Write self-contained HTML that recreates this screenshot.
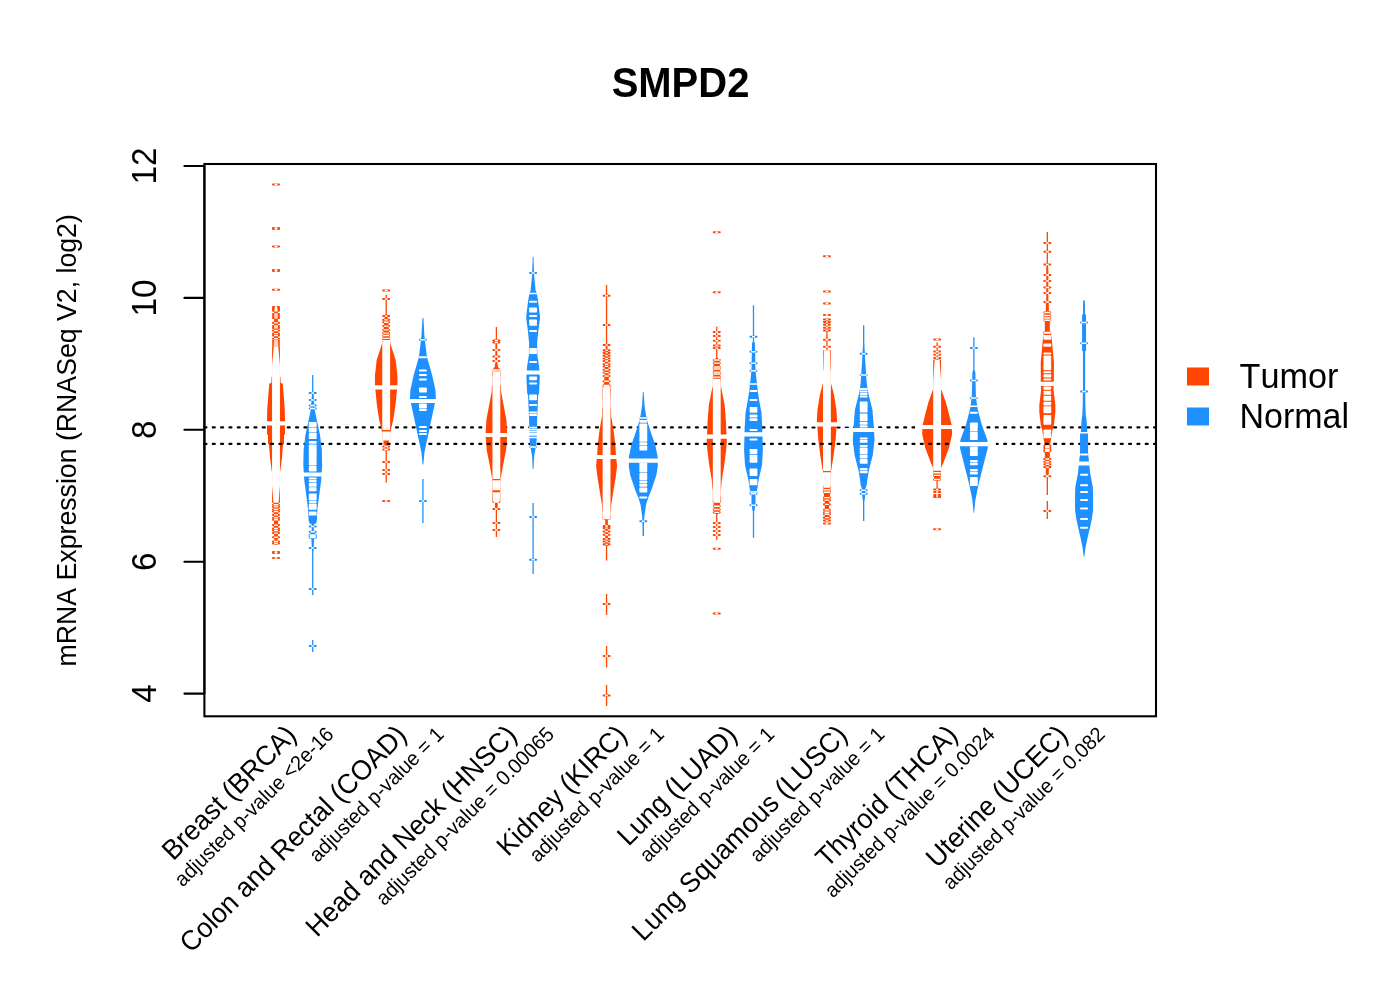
<!DOCTYPE html>
<html lang="en"><head><meta charset="utf-8"><title>SMPD2</title>
<style>html,body{margin:0;padding:0;background:#fff}svg{display:block}text{font-kerning:none;font-variant-ligatures:none}</style></head>
<body>
<svg width="1400" height="1000" viewBox="0 0 1400 1000" font-family="'Liberation Sans', sans-serif" fill="#000">
<rect width="1400" height="1000" fill="#fff"/>
<text transform="translate(680.5 97) scale(1,1.045)" font-size="40" font-weight="bold" text-anchor="middle">SMPD2</text>
<path d="M204.4 427.4H1156" stroke="#000" stroke-width="2.08" stroke-dasharray="2.08 6.25" stroke-linecap="round" stroke-dashoffset="0" fill="none" id="l1"/>
<g><path d="M273 184.5h6M273 228h6M273 229h6M273 246.5h6M273 270h6M273 271h6M273 289.7h6M273 307h6M273 308.3h6M273 309.47h6M273 310.77h6M273 314h6M273 315.95h6M273 317.9h6M273 322.84h6M273 325.96h6M273 327.91h6M273 330.51h6M273 333.63h6M273 335.58h6M273 338.7h6M273 341.04h6M273 342.99h6M273 344.94h6M273 347h6M273 348h6M273 349h6M273 350h6M273 351h6M273 352h6M273 353h6M273 354h6M273 355h6M273 356h6M273 357h6M273 358h6M273 359h6M273 360h6M273 361h6M273 362h6M273 363h6M273 364h6M273 487h6M273 488h6M273 489h6M273 490h6M273 491h6M273 492h6M273 493h6M273 494h6M273 495h6M273 496h6M273 497h6M273 498h6M273 499h6M273 500h6M273 501h6M273 502h6M273 504.8h6M273 506.9h6M273 509.42h6M273 511.52h6M273 514.88h6M273 517.68h6M273 519.78h6M273 525.1h6M273 528.46h6M273 530.56h6M273 533.08h6M273 537.28h6M273 541.5h6M273 543.5h6M273 552h6M273 553h6M273 558h6" stroke="#FF4500" stroke-width="2.08" stroke-linecap="round" fill="none"/>
<polygon points="275,306 274.2,312 274,340 273.7,347 272.1,365 272.1,376 271.6,377 271.3,383 269.3,383.5 268.3,395 267.2,410 267,420 267,434.5 268,435 268,444 269,444.5 270,457.5 271.7,471 272.1,472 272.1,486 273.4,502 273.8,510 274.2,538 275,545 277,545 277.8,538 278.2,510 278.6,502 279.9,486 279.9,472 280.3,471 282,457.5 283,444.5 284,444 284,435 285,434.5 285,420 284.8,410 283.7,395 282.7,383.5 280.7,383 280.4,377 279.9,376 279.9,365 278.3,347 278,340 277.8,312 277,306" fill="#FF4500"/>
<path d="M273 365h6M273 366h6M273 367h6M273 368h6M273 369h6M273 370h6M273 371h6M273 372h6M273 373h6M273 374h6M273 375h6M273 376h6M273 377h6M273 378h6M273 379h6M273 380h6M273 381h6M273 382h6M273 383h6M273 384h6M273 385h6M273 386h6M273 387h6M273 388h6M273 389h6M273 390h6M273 391h6M273 392h6M273 393h6M273 394h6M273 395h6M273 396h6M273 397h6M273 398h6M273 399h6M273 400h6M273 401h6M273 402h6M273 403h6M273 404h6M273 405h6M273 406h6M273 407h6M273 408h6M273 409h6M273 410h6M273 411h6M273 412h6M273 413h6M273 414h6M273 415h6M273 416h6M273 417h6M273 418h6M273 419h6M273 420h6M273 421h6M273 422h6M273 423h6M273 424h6M273 425h6M273 426h6M273 427h6M273 428h6M273 429h6M273 430h6M273 431h6M273 432h6M273 433h6M273 434h6M273 435h6M273 436h6M273 437h6M273 438h6M273 439h6M273 440h6M273 441h6M273 442h6M273 443h6M273 444h6M273 445h6M273 446h6M273 447h6M273 448h6M273 449h6M273 450h6M273 451h6M273 452h6M273 453h6M273 454h6M273 455h6M273 456h6M273 457h6M273 458h6M273 459h6M273 460h6M273 461h6M273 462h6M273 463h6M273 464h6M273 465h6M273 466h6M273 467h6M273 468h6M273 469h6M273 470h6M273 471h6M273 472h6M273 473h6M273 474h6M273 475h6M273 476h6M273 477h6M273 478h6M273 479h6M273 480h6M273 481h6M273 482h6M273 483h6M273 484h6M273 485h6M273 486h6" stroke="#fff" stroke-width="2.08" stroke-linecap="round" fill="none"/>
<path d="M274.6 184.5h2.8M274.6 228h2.8M274.6 229h2.8M274.6 246.5h2.8M274.6 270h2.8M274.6 271h2.8M274.6 289.7h2.8M274.87 307h2.27M274.69 308.3h2.61M274.54 309.47h2.93M274.36 310.77h3.27M274.19 314h3.63M274.17 315.95h3.66M274.16 317.9h3.68M274.12 322.84h3.75M274.1 325.96h3.8M274.09 327.91h3.83M274.07 330.51h3.86M274.05 333.63h3.91M274.03 335.58h3.94M274.01 338.7h3.98M273.96 341.04h4.09M273.87 342.99h4.26M273.79 344.94h4.42M273.7 347h4.6M273.61 348h4.78M273.52 349h4.96M273.43 350h5.13M273.34 351h5.31M273.26 352h5.49M273.17 353h5.67M273.08 354h5.84M272.99 355h6.02M272.9 356h6.2M272.81 357h6.38M272.72 358h6.56M272.63 359h6.73M272.54 360h6.91M272.46 361h7.09M272.37 362h7.27M272.28 363h7.44M272.19 364h7.62M272.18 487h7.64M272.26 488h7.47M272.34 489h7.31M272.43 490h7.15M272.51 491h6.99M272.59 492h6.83M272.67 493h6.66M272.75 494h6.5M272.83 495h6.34M272.91 496h6.17M272.99 497h6.01M273.07 498h5.85M273.16 499h5.69M273.24 500h5.53M273.32 501h5.36M273.4 502h5.2M273.54 504.8h4.92M273.64 506.9h4.71M273.77 509.42h4.46M273.82 511.52h4.36M273.87 514.88h4.26M273.91 517.68h4.18M273.94 519.78h4.12M274.02 525.1h3.97M274.06 528.46h3.87M274.09 530.56h3.81M274.13 533.08h3.74M274.19 537.28h3.62M273.9 541.5h4.2M274.13 543.5h3.74M274.6 552h2.8M274.6 553h2.8M274.6 558h2.8" stroke="#fff" stroke-width="1.4" fill="none"/>
<path d="M254 423.3h44" stroke="#fff" stroke-width="4.2" fill="none"/></g>
<g><path d="M386.19 295V316M386.19 444V482.5" stroke="#FF4500" stroke-width="1.3" fill="none"/>
<path d="M383.19 290.5h6M383.19 299h6M383.19 316h6M383.19 319.84h6M383.19 322.24h6M383.19 326.08h6M383.19 329.92h6M383.19 333.12h6M383.19 335.52h6M383.19 338.4h6M383.19 340.8h6M383.19 446.5h6M383.19 449.5h6M383.19 462h6M383.19 470h6M383.19 474h6M383.19 501h6" stroke="#FF4500" stroke-width="2.08" stroke-linecap="round" fill="none"/>
<polygon points="385.39,314 384.19,320 383.19,335 382.19,342 381.59,345 376.69,360 374.99,375 374.89,385 376.39,400 376.89,405 379.19,420 381.59,430 381.89,431.5 382.29,432 382.29,440 383.49,440.5 383.49,444.3 385.19,445 385.19,450 385.59,451 386.79,451 387.19,450 387.19,445 388.89,444.3 388.89,440.5 390.09,440 390.09,432 390.49,431.5 390.79,430 393.19,420 395.49,405 395.99,400 397.49,385 397.39,375 395.69,360 390.79,345 390.19,342 389.19,335 388.19,320 386.99,314" fill="#FF4500"/>
<path d="M383.19 342h6M383.19 343h6M383.19 344h6M383.19 345h6M383.19 346h6M383.19 347h6M383.19 348h6M383.19 349h6M383.19 350h6M383.19 351h6M383.19 352h6M383.19 353h6M383.19 354h6M383.19 355h6M383.19 356h6M383.19 357h6M383.19 358h6M383.19 359h6M383.19 360h6M383.19 361h6M383.19 362h6M383.19 363h6M383.19 364h6M383.19 365h6M383.19 366h6M383.19 367h6M383.19 368h6M383.19 369h6M383.19 370h6M383.19 371h6M383.19 372h6M383.19 373h6M383.19 374h6M383.19 375h6M383.19 376h6M383.19 377h6M383.19 378h6M383.19 379h6M383.19 380h6M383.19 381h6M383.19 382h6M383.19 383h6M383.19 384h6M383.19 385h6M383.19 386h6M383.19 387h6M383.19 388h6M383.19 389h6M383.19 390h6M383.19 391h6M383.19 392h6M383.19 393h6M383.19 394h6M383.19 395h6M383.19 396h6M383.19 397h6M383.19 398h6M383.19 399h6M383.19 400h6M383.19 401h6M383.19 402h6M383.19 403h6M383.19 404h6M383.19 405h6M383.19 406h6M383.19 407h6M383.19 408h6M383.19 409h6M383.19 410h6M383.19 411h6M383.19 412h6M383.19 413h6M383.19 414h6M383.19 415h6M383.19 416h6M383.19 417h6M383.19 418h6M383.19 419h6M383.19 420h6M383.19 421h6M383.19 422h6M383.19 423h6M383.19 424h6M383.19 425h6M383.19 426h6M383.19 427h6M383.19 428h6M383.19 429h6M383.19 432.5h6M383.19 433.5h6M383.19 434.5h6M383.19 435.5h6M383.19 436.5h6M383.19 437.5h6M383.19 438.5h6M383.19 439.5h6" stroke="#fff" stroke-width="2.08" stroke-linecap="round" fill="none"/>
<path d="M384.79 290.5h2.8M384.79 299h2.8M384.99 316h2.4M384.22 319.84h3.94M384.04 322.24h4.3M383.78 326.08h4.81M383.53 329.92h5.32M383.32 333.12h5.75M383.12 335.52h6.15M382.7 338.4h6.97M382.36 340.8h7.66M384.49 446.5h3.4M384.49 449.5h3.4M384.79 462h2.8M384.79 470h2.8M384.79 474h2.8M384.79 501h2.8" stroke="#fff" stroke-width="1.4" fill="none"/>
<path d="M364.19 387.3h44" stroke="#fff" stroke-width="4.2" fill="none"/></g>
<g><path d="M496.38 327V365M496.38 507V537" stroke="#FF4500" stroke-width="1.3" fill="none"/>
<path d="M493.38 340.5h6M493.38 342.5h6M493.38 350h6M493.38 356.5h6M493.38 361h6M493.38 370h6M493.38 372h6M493.38 373h6M493.38 374h6M493.38 375h6M493.38 376h6M493.38 493h6M493.38 494h6M493.38 495h6M493.38 496h6M493.38 497h6M493.38 498h6M493.38 499h6M493.38 500h6M493.38 501h6M493.38 502h6M493.38 509h6M493.38 523h6M493.38 530h6" stroke="#FF4500" stroke-width="2.08" stroke-linecap="round" fill="none"/>
<polygon points="495.58,339 495.38,364 494.88,364.5 494.88,367 493.38,368 492.78,372 492.48,377.5 492.48,385 491.88,386 491.58,392 489.18,405 486.38,420 485.48,435 486.68,450 489.68,465 492.08,478.5 492.48,479.5 492.48,491 492.58,492 492.88,500 493.88,502.5 494.98,503 494.98,507.5 495.78,508 496.98,508 497.78,507.5 497.78,503 498.88,502.5 499.88,500 500.18,492 500.28,491 500.28,479.5 500.68,478.5 503.08,465 506.08,450 507.28,435 506.38,420 503.58,405 501.18,392 500.88,386 500.28,385 500.28,377.5 499.98,372 499.38,368 497.88,367 497.88,364.5 497.38,364 497.18,339" fill="#FF4500"/>
<path d="M493.38 377h6M493.38 378h6M493.38 379h6M493.38 380h6M493.38 381h6M493.38 382h6M493.38 383h6M493.38 384h6M493.38 385h6M493.38 386h6M493.38 387h6M493.38 388h6M493.38 389h6M493.38 390h6M493.38 391h6M493.38 392h6M493.38 393h6M493.38 394h6M493.38 395h6M493.38 396h6M493.38 397h6M493.38 398h6M493.38 399h6M493.38 400h6M493.38 401h6M493.38 402h6M493.38 403h6M493.38 404h6M493.38 405h6M493.38 406h6M493.38 407h6M493.38 408h6M493.38 409h6M493.38 410h6M493.38 411h6M493.38 412h6M493.38 413h6M493.38 414h6M493.38 415h6M493.38 416h6M493.38 417h6M493.38 418h6M493.38 419h6M493.38 420h6M493.38 421h6M493.38 422h6M493.38 423h6M493.38 424h6M493.38 425h6M493.38 426h6M493.38 427h6M493.38 428h6M493.38 429h6M493.38 430h6M493.38 431h6M493.38 432h6M493.38 433h6M493.38 434h6M493.38 435h6M493.38 436h6M493.38 437h6M493.38 438h6M493.38 439h6M493.38 440h6M493.38 441h6M493.38 442h6M493.38 443h6M493.38 444h6M493.38 445h6M493.38 446h6M493.38 447h6M493.38 448h6M493.38 449h6M493.38 450h6M493.38 451h6M493.38 452h6M493.38 453h6M493.38 454h6M493.38 455h6M493.38 456h6M493.38 457h6M493.38 458h6M493.38 459h6M493.38 460h6M493.38 461h6M493.38 462h6M493.38 463h6M493.38 464h6M493.38 465h6M493.38 466h6M493.38 467h6M493.38 468h6M493.38 469h6M493.38 470h6M493.38 471h6M493.38 472h6M493.38 473h6M493.38 474h6M493.38 475h6M493.38 476h6M493.38 477h6M493.38 478h6M493.38 481.2h6M493.38 482.2h6M493.38 483.2h6M493.38 484.2h6M493.38 485.2h6M493.38 486.2h6M493.38 487.2h6M493.38 488.2h6M493.38 489.2h6" stroke="#fff" stroke-width="2.08" stroke-linecap="round" fill="none"/>
<path d="M494.87 340.5h3.02M494.85 342.5h3.06M494.79 350h3.18M494.74 356.5h3.28M494.7 361h3.35M492.38 370h8M492.78 372h7.2M492.73 373h7.31M492.67 374h7.42M492.62 375h7.53M492.56 376h7.64M492.62 493h7.52M492.65 494h7.45M492.69 495h7.38M492.73 496h7.3M492.77 497h7.22M492.81 498h7.15M492.84 499h7.08M492.88 500h7M493.28 501h6.2M493.68 502h5.4M494.98 509h2.8M494.98 523h2.8M494.98 530h2.8" stroke="#fff" stroke-width="1.4" fill="none"/>
<path d="M474.38 435h44" stroke="#fff" stroke-width="4.2" fill="none"/></g>
<g><path d="M606.57 285V345M606.57 520V560.6M606.57 594V615M606.57 646V667.6M606.57 685V706" stroke="#FF4500" stroke-width="1.3" fill="none"/>
<path d="M603.57 295.8h6M603.57 325h6M603.57 345h6M603.57 350.32h6M603.57 352.84h6M603.57 355.64h6M603.57 358.44h6M603.57 360.96h6M603.57 364.32h6M603.57 366.42h6M603.57 369.78h6M603.57 372.58h6M603.57 375.94h6M603.57 381.26h6M603.57 385.46h6M603.57 385.5h6M603.57 386.5h6M603.57 387.5h6M603.57 388.5h6M603.57 389.5h6M603.57 390.5h6M603.57 391.5h6M603.57 392.5h6M603.57 393.5h6M603.57 394.5h6M603.57 395.5h6M603.57 396.5h6M603.57 397.5h6M603.57 398.5h6M603.57 516.5h6M603.57 517.5h6M603.57 518.5h6M603.57 526h6M603.57 528.1h6M603.57 531.46h6M603.57 534.82h6M603.57 539.02h6M603.57 541.54h6M603.57 544.34h6M603.57 604h6M603.57 656h6M603.57 695.5h6" stroke="#FF4500" stroke-width="2.08" stroke-linecap="round" fill="none"/>
<polygon points="605.77,344 605.07,360 604.57,375 603.77,385.5 603.07,388 602.67,401 602.67,402 602.67,407 602.17,408 601.97,416.5 599.57,430 597.72,445 597.27,454 596.07,466 597.57,478 599.57,490 601.97,505 602.27,511 602.67,512 602.67,516 603.07,518.5 604.57,519.5 605.27,520 605.27,524.5 605.07,535 605.77,545.5 607.37,545.5 608.07,535 607.87,524.5 607.87,520 608.57,519.5 610.07,518.5 610.47,516 610.47,512 610.87,511 611.17,505 613.57,490 615.57,478 617.07,466 615.87,454 615.42,445 613.57,430 611.17,416.5 610.97,408 610.47,407 610.47,402 610.47,401 610.07,388 609.37,385.5 608.57,375 608.07,360 607.37,344" fill="#FF4500"/>
<path d="M603.57 399.5h6M603.57 400.5h6M603.57 401.5h6M603.57 402.5h6M603.57 403.5h6M603.57 404.5h6M603.57 405.5h6M603.57 406.5h6M603.57 407.5h6M603.57 408.5h6M603.57 409.5h6M603.57 410.5h6M603.57 411.5h6M603.57 412.5h6M603.57 413.5h6M603.57 414.5h6M603.57 415.5h6M603.57 416.5h6M603.57 417.5h6M603.57 418.5h6M603.57 419.5h6M603.57 420.5h6M603.57 421.5h6M603.57 422.5h6M603.57 423.5h6M603.57 424.5h6M603.57 425.5h6M603.57 426.5h6M603.57 427.5h6M603.57 428.5h6M603.57 429.5h6M603.57 430.5h6M603.57 431.5h6M603.57 432.5h6M603.57 433.5h6M603.57 434.5h6M603.57 435.5h6M603.57 436.5h6M603.57 437.5h6M603.57 438.5h6M603.57 439.5h6M603.57 440.5h6M603.57 441.5h6M603.57 442.5h6M603.57 443.5h6M603.57 444.5h6M603.57 445.5h6M603.57 446.5h6M603.57 447.5h6M603.57 448.5h6M603.57 449.5h6M603.57 450.5h6M603.57 451.5h6M603.57 452.5h6M603.57 453.5h6M603.57 454.5h6M603.57 455.5h6M603.57 456.5h6M603.57 457.5h6M603.57 458.5h6M603.57 459.5h6M603.57 460.5h6M603.57 461.5h6M603.57 462.5h6M603.57 463.5h6M603.57 464.5h6M603.57 465.5h6M603.57 466.5h6M603.57 467.5h6M603.57 468.5h6M603.57 469.5h6M603.57 470.5h6M603.57 471.5h6M603.57 472.5h6M603.57 473.5h6M603.57 474.5h6M603.57 475.5h6M603.57 476.5h6M603.57 477.5h6M603.57 478.5h6M603.57 479.5h6M603.57 480.5h6M603.57 481.5h6M603.57 482.5h6M603.57 483.5h6M603.57 484.5h6M603.57 485.5h6M603.57 486.5h6M603.57 487.5h6M603.57 488.5h6M603.57 489.5h6M603.57 490.5h6M603.57 491.5h6M603.57 492.5h6M603.57 493.5h6M603.57 494.5h6M603.57 495.5h6M603.57 496.5h6M603.57 497.5h6M603.57 498.5h6M603.57 499.5h6M603.57 500.5h6M603.57 501.5h6M603.57 502.5h6M603.57 503.5h6M603.57 504.5h6M603.57 505.5h6M603.57 506.5h6M603.57 507.5h6M603.57 508.5h6M603.57 509.5h6M603.57 510.5h6M603.57 511.5h6M603.57 512.5h6M603.57 513.5h6M603.57 514.5h6M603.57 515.5h6" stroke="#fff" stroke-width="2.08" stroke-linecap="round" fill="none"/>
<path d="M605.17 295.8h2.8M605.17 325h2.8M605.57 345h2M605.49 350.32h2.15M605.38 352.84h2.37M605.26 355.64h2.62M605.14 358.44h2.86M605.04 360.96h3.06M604.93 364.32h3.29M604.86 366.42h3.43M604.74 369.78h3.65M604.65 372.58h3.84M604.5 375.94h4.14M604.09 381.26h4.95M603.77 385.46h5.59M603.77 385.5h5.6M603.49 386.5h6.16M603.21 387.5h6.72M603.05 388.5h7.03M603.02 389.5h7.09M602.99 390.5h7.15M602.96 391.5h7.22M602.93 392.5h7.28M602.9 393.5h7.34M602.87 394.5h7.4M602.84 395.5h7.46M602.81 396.5h7.52M602.78 397.5h7.58M602.75 398.5h7.65M602.75 516.5h7.64M602.91 517.5h7.32M603.07 518.5h7M605.24 526h2.66M605.2 528.1h2.74M605.14 531.46h2.87M605.07 534.82h2.99M605.34 539.02h2.46M605.51 541.54h2.13M605.57 544.34h2M605.17 604h2.8M605.17 656h2.8M605.17 695.5h2.8" stroke="#fff" stroke-width="1.4" fill="none"/>
<path d="M584.57 457h44" stroke="#fff" stroke-width="4.2" fill="none"/></g>
<g><path d="M716.76 326.8V360M716.76 513V540" stroke="#FF4500" stroke-width="1.3" fill="none"/>
<path d="M713.76 232.3h6M713.76 292.3h6M713.76 332h6M713.76 336h6M713.76 340.7h6M713.76 345.5h6M713.76 348h6M713.76 360h6M713.76 363.12h6M713.76 367.02h6M713.76 368.97h6M713.76 372.09h6M713.76 374.04h6M713.76 377.16h6M713.76 379.5h6M713.76 496h6M713.76 497h6M713.76 498h6M713.76 499h6M713.76 500h6M713.76 501h6M713.76 502h6M713.76 506.2h6M713.76 509.56h6M713.76 512.36h6M713.76 523h6M713.76 527h6M713.76 531h6M713.76 535h6M713.76 548.7h6M713.76 613.5h6" stroke="#FF4500" stroke-width="2.08" stroke-linecap="round" fill="none"/>
<polygon points="715.96,358 713.76,360 713.36,375 712.86,381 712.86,387 712.26,387.7 708.86,405 707.66,420 707.16,432 706.66,441 707.36,450 709.26,465 711.76,480 712.46,489 712.86,490 712.86,495 712.96,496 713.36,502 714.26,513 716.16,514 717.36,514 719.26,513 720.16,502 720.56,496 720.66,495 720.66,490 721.06,489 721.76,480 724.26,465 726.16,450 726.86,441 726.36,432 725.86,420 724.66,405 721.26,387.7 720.66,387 720.66,381 720.16,375 719.76,360 717.56,358" fill="#FF4500"/>
<path d="M713.76 381h6M713.76 382h6M713.76 383h6M713.76 384h6M713.76 385h6M713.76 386h6M713.76 387h6M713.76 388h6M713.76 389h6M713.76 390h6M713.76 391h6M713.76 392h6M713.76 393h6M713.76 394h6M713.76 395h6M713.76 396h6M713.76 397h6M713.76 398h6M713.76 399h6M713.76 400h6M713.76 401h6M713.76 402h6M713.76 403h6M713.76 404h6M713.76 405h6M713.76 406h6M713.76 407h6M713.76 408h6M713.76 409h6M713.76 410h6M713.76 411h6M713.76 412h6M713.76 413h6M713.76 414h6M713.76 415h6M713.76 416h6M713.76 417h6M713.76 418h6M713.76 419h6M713.76 420h6M713.76 421h6M713.76 422h6M713.76 423h6M713.76 424h6M713.76 425h6M713.76 426h6M713.76 427h6M713.76 428h6M713.76 429h6M713.76 430h6M713.76 431h6M713.76 432h6M713.76 433h6M713.76 434h6M713.76 435h6M713.76 436h6M713.76 437h6M713.76 438h6M713.76 439h6M713.76 440h6M713.76 441h6M713.76 442h6M713.76 443h6M713.76 444h6M713.76 445h6M713.76 446h6M713.76 447h6M713.76 448h6M713.76 449h6M713.76 450h6M713.76 451h6M713.76 452h6M713.76 453h6M713.76 454h6M713.76 455h6M713.76 456h6M713.76 457h6M713.76 458h6M713.76 459h6M713.76 460h6M713.76 461h6M713.76 462h6M713.76 463h6M713.76 464h6M713.76 465h6M713.76 466h6M713.76 467h6M713.76 468h6M713.76 469h6M713.76 470h6M713.76 471h6M713.76 472h6M713.76 473h6M713.76 474h6M713.76 475h6M713.76 476h6M713.76 477h6M713.76 478h6M713.76 479h6M713.76 480h6M713.76 481h6M713.76 482h6M713.76 483h6M713.76 484h6M713.76 485h6M713.76 486h6M713.76 487h6M713.76 488h6M713.76 489h6M713.76 490h6M713.76 491h6M713.76 492h6M713.76 493h6M713.76 494h6M713.76 495h6" stroke="#fff" stroke-width="2.08" stroke-linecap="round" fill="none"/>
<path d="M715.36 232.3h2.8M715.36 292.3h2.8M715.36 332h2.8M715.36 336h2.8M715.36 340.7h2.8M715.36 345.5h2.8M715.36 348h2.8M713.76 360h6M713.68 363.12h6.17M713.57 367.02h6.37M713.52 368.97h6.48M713.44 372.09h6.64M713.39 374.04h6.75M713.18 377.16h7.16M712.99 379.5h7.55M712.96 496h7.6M713.03 497h7.47M713.09 498h7.33M713.16 499h7.2M713.23 500h7.07M713.29 501h6.93M713.36 502h6.8M713.7 506.2h6.11M713.98 509.56h5.56M714.21 512.36h5.1M715.36 523h2.8M715.36 527h2.8M715.36 531h2.8M715.36 535h2.8M715.36 548.7h2.8M715.36 613.5h2.8" stroke="#fff" stroke-width="1.4" fill="none"/>
<path d="M694.76 436.7h44" stroke="#fff" stroke-width="4.2" fill="none"/></g>
<g><path d="M826.95 318V351" stroke="#FF4500" stroke-width="1.3" fill="none"/>
<path d="M823.95 256.2h6M823.95 291.5h6M823.95 303.5h6M823.95 315h6M823.95 319.5h6M823.95 322.1h6M823.95 324.7h6M823.95 327.82h6M823.95 330.42h6M823.95 339.7h6M823.95 346.8h6M823.95 351h6M823.95 352h6M823.95 353h6M823.95 354h6M823.95 355h6M823.95 356h6M823.95 357h6M823.95 358h6M823.95 359h6M823.95 360h6M823.95 361h6M823.95 362h6M823.95 363h6M823.95 364h6M823.95 365h6M823.95 366h6M823.95 367h6M823.95 368h6M823.95 369h6M823.95 370h6M823.95 485.3h6M823.95 486.3h6M823.95 487h6M823.95 489.8h6M823.95 492.32h6M823.95 497.64h6M823.95 500.16h6M823.95 504.36h6M823.95 509.68h6M823.95 512.2h6M823.95 514.3h6M823.95 517.66h6M823.95 520.46h6M823.95 523.5h6" stroke="#FF4500" stroke-width="2.08" stroke-linecap="round" fill="none"/>
<polygon points="826.15,350 823.75,351 823.35,370 823.05,371 823.05,383 822.55,384.5 819.85,395 817.45,410 816.85,420.5 818.35,440 820.2,455 822.65,470 823.05,471.5 823.05,485 823.35,486 823.95,495 824.95,505 824.45,515 825.95,521 827.95,521 829.45,515 828.95,505 829.95,495 830.55,486 830.85,485 830.85,471.5 831.25,470 833.7,455 835.55,440 837.05,420.5 836.45,410 834.05,395 831.35,384.5 830.85,383 830.85,371 830.55,370 830.15,351 827.75,350" fill="#FF4500"/>
<path d="M823.95 371h6M823.95 372h6M823.95 373h6M823.95 374h6M823.95 375h6M823.95 376h6M823.95 377h6M823.95 378h6M823.95 379h6M823.95 380h6M823.95 381h6M823.95 382h6M823.95 383h6M823.95 384h6M823.95 385h6M823.95 386h6M823.95 387h6M823.95 388h6M823.95 389h6M823.95 390h6M823.95 391h6M823.95 392h6M823.95 393h6M823.95 394h6M823.95 395h6M823.95 396h6M823.95 397h6M823.95 398h6M823.95 399h6M823.95 400h6M823.95 401h6M823.95 402h6M823.95 403h6M823.95 404h6M823.95 405h6M823.95 406h6M823.95 407h6M823.95 408h6M823.95 409h6M823.95 410h6M823.95 411h6M823.95 412h6M823.95 413h6M823.95 414h6M823.95 415h6M823.95 416h6M823.95 417h6M823.95 418h6M823.95 419h6M823.95 420h6M823.95 421h6M823.95 422h6M823.95 423h6M823.95 424h6M823.95 425h6M823.95 426h6M823.95 427h6M823.95 428h6M823.95 429h6M823.95 430h6M823.95 431h6M823.95 432h6M823.95 433h6M823.95 434h6M823.95 435h6M823.95 436h6M823.95 437h6M823.95 438h6M823.95 439h6M823.95 440h6M823.95 441h6M823.95 442h6M823.95 443h6M823.95 444h6M823.95 445h6M823.95 446h6M823.95 447h6M823.95 448h6M823.95 449h6M823.95 450h6M823.95 451h6M823.95 452h6M823.95 453h6M823.95 454h6M823.95 455h6M823.95 456h6M823.95 457h6M823.95 458h6M823.95 459h6M823.95 460h6M823.95 461h6M823.95 462h6M823.95 463h6M823.95 464h6M823.95 465h6M823.95 466h6M823.95 467h6M823.95 468h6M823.95 469h6M823.95 470h6M823.95 473.3h6M823.95 474.3h6M823.95 475.3h6M823.95 476.3h6M823.95 477.3h6M823.95 478.3h6M823.95 479.3h6M823.95 480.3h6M823.95 481.3h6M823.95 482.3h6M823.95 483.3h6M823.95 484.3h6" stroke="#fff" stroke-width="2.08" stroke-linecap="round" fill="none"/>
<path d="M825.55 256.2h2.8M825.55 291.5h2.8M825.55 303.5h2.8M825.55 315h2.8M825.95 319.5h2M825.95 322.1h2M825.95 324.7h2M825.95 327.82h2M825.95 330.42h2M825.55 339.7h2.8M825.55 346.8h2.8M823.75 351h6.4M823.73 352h6.44M823.71 353h6.48M823.69 354h6.53M823.67 355h6.57M823.64 356h6.61M823.62 357h6.65M823.6 358h6.69M823.58 359h6.74M823.56 360h6.78M823.54 361h6.82M823.52 362h6.86M823.5 363h6.91M823.48 364h6.95M823.46 365h6.99M823.43 366h7.03M823.41 367h7.07M823.39 368h7.12M823.37 369h7.16M823.35 370h7.2M823.14 485.3h7.62M823.37 486.3h7.16M823.42 487h7.07M823.6 489.8h6.69M823.77 492.32h6.36M824.21 497.64h5.47M824.47 500.16h4.97M824.89 504.36h4.13M824.72 509.68h4.47M824.59 512.2h4.72M824.48 514.3h4.93M825.11 517.66h3.67M825.81 520.46h2.27M825.55 523.5h2.8" stroke="#fff" stroke-width="1.4" fill="none"/>
<path d="M804.95 424.3h44" stroke="#fff" stroke-width="4.2" fill="none"/></g>
<g><path d="M937.14 342.5V360.5M937.14 480.5V489.5" stroke="#FF4500" stroke-width="1.3" fill="none"/>
<path d="M934.14 339.5h6M934.14 346.7h6M934.14 351.5h6M934.14 354.8h6M934.14 358h6M934.14 360.5h6M934.14 361.5h6M934.14 362.5h6M934.14 363.5h6M934.14 364.5h6M934.14 365.5h6M934.14 366.5h6M934.14 367.5h6M934.14 368.5h6M934.14 369.5h6M934.14 370.5h6M934.14 371.5h6M934.14 372.5h6M934.14 373.5h6M934.14 374.5h6M934.14 375.5h6M934.14 376.5h6M934.14 377.5h6M934.14 378.5h6M934.14 379.5h6M934.14 469.5h6M934.14 470h6M934.14 472.7h6M934.14 475.4h6M934.14 479.45h6M934.14 489.5h6M934.14 492h6M934.14 495h6M934.14 496.88h6M934.14 529.2h6" stroke="#FF4500" stroke-width="2.08" stroke-linecap="round" fill="none"/>
<polygon points="936.34,359.5 934.64,360.5 933.64,375 933.24,380.7 933.24,381.5 933.24,390 932.64,390.5 928.34,402.5 924.44,417.5 922.64,425 922.14,434 925.14,447.5 930.74,462.5 933.04,467.7 933.24,468 933.34,470 933.64,475 934.14,480.5 936.54,481 937.74,481 940.14,480.5 940.64,475 940.94,470 941.04,468 941.24,467.7 943.54,462.5 949.14,447.5 952.14,434 951.64,425 949.84,417.5 945.94,402.5 941.64,390.5 941.04,390 941.04,381.5 941.04,380.7 940.64,375 939.64,360.5 937.94,359.5" fill="#FF4500"/>
<path d="M934.14 380.5h6M934.14 381.5h6M934.14 382.5h6M934.14 383.5h6M934.14 384.5h6M934.14 385.5h6M934.14 386.5h6M934.14 387.5h6M934.14 388.5h6M934.14 389.5h6M934.14 390.5h6M934.14 391.5h6M934.14 392.5h6M934.14 393.5h6M934.14 394.5h6M934.14 395.5h6M934.14 396.5h6M934.14 397.5h6M934.14 398.5h6M934.14 399.5h6M934.14 400.5h6M934.14 401.5h6M934.14 402.5h6M934.14 403.5h6M934.14 404.5h6M934.14 405.5h6M934.14 406.5h6M934.14 407.5h6M934.14 408.5h6M934.14 409.5h6M934.14 410.5h6M934.14 411.5h6M934.14 412.5h6M934.14 413.5h6M934.14 414.5h6M934.14 415.5h6M934.14 416.5h6M934.14 417.5h6M934.14 418.5h6M934.14 419.5h6M934.14 420.5h6M934.14 421.5h6M934.14 422.5h6M934.14 423.5h6M934.14 424.5h6M934.14 425.5h6M934.14 426.5h6M934.14 427.5h6M934.14 428.5h6M934.14 429.5h6M934.14 430.5h6M934.14 431.5h6M934.14 432.5h6M934.14 433.5h6M934.14 434.5h6M934.14 435.5h6M934.14 436.5h6M934.14 437.5h6M934.14 438.5h6M934.14 439.5h6M934.14 440.5h6M934.14 441.5h6M934.14 442.5h6M934.14 443.5h6M934.14 444.5h6M934.14 445.5h6M934.14 446.5h6M934.14 447.5h6M934.14 448.5h6M934.14 449.5h6M934.14 450.5h6M934.14 451.5h6M934.14 452.5h6M934.14 453.5h6M934.14 454.5h6M934.14 455.5h6M934.14 456.5h6M934.14 457.5h6M934.14 458.5h6M934.14 459.5h6M934.14 460.5h6M934.14 461.5h6M934.14 462.5h6M934.14 463.5h6M934.14 464.5h6M934.14 465.5h6M934.14 466.5h6M934.14 467.5h6M934.14 468.5h6" stroke="#fff" stroke-width="2.08" stroke-linecap="round" fill="none"/>
<path d="M935.74 339.5h2.8M935.74 346.7h2.8M935.74 351.5h2.8M935.74 354.8h2.8M935.74 358h2.8M934.64 360.5h5M934.57 361.5h5.14M934.5 362.5h5.28M934.43 363.5h5.41M934.36 364.5h5.55M934.3 365.5h5.69M934.23 366.5h5.83M934.16 367.5h5.97M934.09 368.5h6.1M934.02 369.5h6.24M933.95 370.5h6.38M933.88 371.5h6.52M933.81 372.5h6.66M933.74 373.5h6.79M933.67 374.5h6.93M933.6 375.5h7.07M933.53 376.5h7.21M933.46 377.5h7.35M933.39 378.5h7.49M933.32 379.5h7.63M933.31 469.5h7.65M933.34 470h7.6M933.5 472.7h7.28M933.68 475.4h6.93M934.04 479.45h6.19M936.14 489.5h2M936.14 492h2M936.14 495h2M936.14 496.88h2M935.74 529.2h2.8" stroke="#fff" stroke-width="1.4" fill="none"/>
<path d="M915.14 427h44" stroke="#fff" stroke-width="4.2" fill="none"/></g>
<g><path d="M1047.33 232V310M1047.33 476V495M1047.33 501V519" stroke="#FF4500" stroke-width="1.3" fill="none"/>
<path d="M1044.33 243h6M1044.33 251.8h6M1044.33 264.5h6M1044.33 275h6M1044.33 281h6M1044.33 287.5h6M1044.33 293h6M1044.33 302h6M1044.33 312.5h6M1044.33 315.5h6M1044.33 318h6M1044.33 320.25h6M1044.33 332.5h6M1044.33 333.1h6M1044.33 446h6M1044.33 447.49h6M1044.33 449.36h6M1044.33 450.48h6M1044.33 451.32h6M1044.33 459h6M1044.33 461.8h6M1044.33 464.32h6M1044.33 467.12h6M1044.33 476.2h6M1044.33 511h6" stroke="#FF4500" stroke-width="2.08" stroke-linecap="round" fill="none"/>
<polygon points="1046.73,266 1046.33,268 1046.33,302 1045.83,303 1045.83,311 1044.33,311.5 1044.13,320.5 1044.83,322 1044.83,331 1043.83,333 1042.83,340 1042.13,347.5 1040.73,362.5 1040.83,381 1041.13,390 1039.33,405 1039.33,412.5 1040.73,424.5 1042.33,430.5 1043.33,438 1044.33,442.5 1044.33,445.5 1045.13,446 1044.83,453 1044.83,457 1045.33,458 1045.83,468 1045.83,474 1046.73,475 1047.93,475 1048.83,474 1048.83,468 1049.33,458 1049.83,457 1049.83,453 1049.53,446 1050.33,445.5 1050.33,442.5 1051.33,438 1052.33,430.5 1053.93,424.5 1055.33,412.5 1055.33,405 1053.53,390 1053.83,381 1053.93,362.5 1052.53,347.5 1051.83,340 1050.83,333 1049.83,331 1049.83,322 1050.53,320.5 1050.33,311.5 1048.83,311 1048.83,303 1048.33,302 1048.33,268 1047.93,266" fill="#FF4500"/>
<path d="M1044.33 336h6M1044.33 336.6h6M1044.33 338.6h6M1044.33 344.5h6M1044.33 345.7h6M1044.33 353.5h6M1044.33 356.5h6M1044.33 357.74h6M1044.33 359.8h6M1044.33 361.46h6M1044.33 363.52h6M1044.33 365.18h6M1044.33 365.8h6M1044.33 366.42h6M1044.33 367.66h6M1044.33 369.31h6M1044.33 372.31h6M1044.33 375.3h6M1044.33 375.92h6M1044.33 376.54h6M1044.33 379.54h6M1044.33 387.5h6M1044.33 388.74h6M1044.33 391.74h6M1044.33 393.8h6M1044.33 396.8h6M1044.33 398.45h6M1044.33 399.69h6M1044.33 402.69h6M1044.33 404.34h6M1044.33 407.34h6M1044.33 408.58h6M1044.33 409.2h6M1044.33 410.85h6M1044.33 412.09h6M1044.33 416h6M1044.33 418h6M1044.33 418.6h6M1044.33 420.2h6M1044.33 420.8h6M1044.33 421.7h6M1044.33 422.9h6M1044.33 423.8h6M1044.33 430.5h6M1044.33 431.34h6M1044.33 432.83h6M1044.33 434.33h6M1044.33 435.82h6M1044.33 436.38h6M1044.33 437.22h6" stroke="#fff" stroke-width="2.08" stroke-linecap="round" fill="none"/>
<path d="M1045.93 243h2.8M1045.93 251.8h2.8M1045.93 264.5h2.8M1045.63 275h3.4M1045.63 281h3.4M1045.63 287.5h3.4M1045.63 293h3.4M1045.63 302h3.4M1044.31 312.5h6.04M1044.24 315.5h6.18M1044.19 318h6.29M1044.14 320.25h6.39M1044.08 332.5h6.5M1043.82 333.1h7.03M1045.13 446h4.4M1045.07 447.49h4.53M1044.99 449.36h4.69M1044.94 450.48h4.78M1044.9 451.32h4.86M1045.38 459h3.9M1045.52 461.8h3.62M1045.65 464.32h3.37M1045.79 467.12h3.09M1045.93 476.2h2.8M1045.93 511h2.8" stroke="#fff" stroke-width="1.4" fill="none"/>
<path d="M1025.33 383.8h44" stroke="#fff" stroke-width="4.2" fill="none"/></g>
<path d="M204.4 443.9H1156" stroke="#000" stroke-width="2.08" stroke-dasharray="2.08 6.25" stroke-linecap="round" fill="none" id="l2"/>
<g><path d="M312.73 375V410M312.73 523V595M312.73 640V652" stroke="#1E90FF" stroke-width="1.3" fill="none"/>
<path d="M309.73 393h6M309.73 400h6M309.73 405.5h6M309.73 408.5h6M309.73 526.5h6M309.73 531.7h6M309.73 535h6M309.73 535.81h6M309.73 536.35h6M309.73 537.43h6M309.73 548h6M309.73 589h6M309.73 646h6" stroke="#1E90FF" stroke-width="2.08" stroke-linecap="round" fill="none"/>
<polygon points="312.13,392 311.53,400 310.73,410 308.63,420 305.43,435 303.63,450 303.33,465 304.23,480 306.23,495 308.13,510 308.43,516 308.63,521 309.73,523.5 311.73,524.5 311.73,531 311.23,532 309.73,534 309.73,538.5 311.43,539 311.73,546 312.13,551 313.33,551 313.73,546 314.03,539 315.73,538.5 315.73,534 314.23,532 313.73,531 313.73,524.5 315.73,523.5 316.83,521 317.03,516 317.33,510 319.23,495 321.23,480 322.13,465 321.83,450 320.03,435 316.83,420 314.73,410 313.93,400 313.33,392" fill="#1E90FF"/>
<path d="M309.73 423h6M309.73 424.8h6M309.73 425.88h6M309.73 428.49h6M309.73 429.93h6M309.73 431.01h6M309.73 433.62h6M309.73 435.06h6M309.73 435.87h6M309.73 436.68h6M309.73 437.22h6M309.73 438.03h6M309.73 442h6M309.73 442.81h6M309.73 445.42h6M309.73 446.23h6M309.73 446.77h6M309.73 448.21h6M309.73 450.01h6M309.73 450.82h6M309.73 451.9h6M309.73 452.98h6M309.73 453.52h6M309.73 454.33h6M309.73 455.77h6M309.73 457.57h6M309.73 458.65h6M309.73 460.45h6M309.73 462.25h6M309.73 463.33h6M309.73 464.14h6M309.73 466.75h6M309.73 468.55h6M309.73 470.35h6M309.73 478.5h6M309.73 481.11h6M309.73 483.72h6M309.73 484.26h6M309.73 485.7h6M309.73 488.31h6M309.73 490.11h6M309.73 494.5h6M309.73 495.94h6M309.73 497.38h6M309.73 498.82h6M309.73 499.36h6M309.73 502h6M309.73 504.61h6M309.73 506.05h6M309.73 506.59h6M309.73 507.4h6M309.73 507.94h6M309.73 508.75h6M309.73 512.5h6M309.73 514.5h6" stroke="#fff" stroke-width="2.08" stroke-linecap="round" fill="none"/>
<path d="M311.33 393h2.8M310.83 400h3.8M310.39 405.5h4.68M310.15 408.5h5.16M311.03 526.5h3.4M310.68 531.7h4.1M309.73 535h6M309.73 535.81h6M309.73 536.35h6M309.73 537.43h6M311.19 548h3.08M311.33 589h2.8M311.33 646h2.8" stroke="#fff" stroke-width="1.4" fill="none"/>
<path d="M290.73 474.5h44" stroke="#fff" stroke-width="4.2" fill="none"/></g>
<g><path d="M422.92 479V523" stroke="#1E90FF" stroke-width="1.3" fill="none"/>
<path d="M419.92 339.7h6M419.92 501h6" stroke="#1E90FF" stroke-width="2.08" stroke-linecap="round" fill="none"/>
<polygon points="422.42,318 421.42,336 418.92,357 413.72,375 410.42,390 409.92,399 410.92,403 421.42,452.5 422.52,464.5 423.32,464.5 424.42,452.5 434.92,403 435.92,399 435.42,390 432.12,375 426.92,357 424.42,336 423.42,318" fill="#1E90FF"/>
<path d="M419.92 357.3h6M419.92 370.5h6M419.92 375h6M419.92 379.5h6M419.92 388.5h6M419.92 389.5h6M419.92 390.5h6M419.92 391.5h6M419.92 397h6M419.92 404.5h6M419.92 405.5h6M419.92 406.5h6M419.92 407.5h6M419.92 410h6M419.92 427h6M419.92 431h6M419.92 434h6" stroke="#fff" stroke-width="2.08" stroke-linecap="round" fill="none"/>
<path d="M420.28 339.7h5.28M421.52 501h2.8" stroke="#fff" stroke-width="1.4" fill="none"/>
<path d="M400.92 401h44" stroke="#fff" stroke-width="4.2" fill="none"/></g>
<g><path d="M533.11 503V574" stroke="#1E90FF" stroke-width="1.3" fill="none"/>
<path d="M530.11 273h6M530.11 293.5h6M530.11 427.5h6M530.11 429.5h6M530.11 431.5h6M530.11 433.5h6M530.11 435h6M530.11 437.5h6M530.11 447h6M530.11 517h6M530.11 559.7h6" stroke="#1E90FF" stroke-width="2.08" stroke-linecap="round" fill="none"/>
<polygon points="532.71,256.7 532.11,275 530.61,290.5 529.11,295 527.91,302.5 526.11,317.5 527.91,331 529.11,343 528.91,355 527.01,367 526.41,377.5 527.11,392.5 528.11,396 528.61,408 529.11,420 529.61,439.5 530.11,445.5 532.11,456 532.71,469 533.51,469 534.11,456 536.11,445.5 536.61,439.5 537.11,420 537.61,408 538.11,396 539.11,392.5 539.81,377.5 539.21,367 537.31,355 537.11,343 538.31,331 540.11,317.5 538.31,302.5 537.11,295 535.61,290.5 534.11,275 533.51,256.7" fill="#1E90FF"/>
<path d="M530.11 301.7h6M530.11 308.5h6M530.11 309.5h6M530.11 310.5h6M530.11 311.5h6M530.11 316h6M530.11 320.5h6M530.11 321.04h6M530.11 321.58h6M530.11 322.12h6M530.11 323.92h6M530.11 324.73h6M530.11 331h6M530.11 349h6M530.11 351h6M530.11 353h6M530.11 362h6M530.11 377.5h6M530.11 378.04h6M530.11 379.12h6M530.11 383.5h6M530.11 395.5h6M530.11 396.04h6M530.11 396.58h6M530.11 397.39h6M530.11 399.19h6M530.11 405h6M530.11 412.5h6M530.11 415h6" stroke="#fff" stroke-width="2.08" stroke-linecap="round" fill="none"/>
<path d="M531.48 273h3.27M529.07 293.5h8.08M529.07 427.5h8.08M529.07 429.5h8.08M529.07 431.5h8.08M529.07 433.5h8.08M529.07 435h8.08M529.07 437.5h8.08M529.7 447h6.83M531.71 517h2.8M531.71 559.7h2.8" stroke="#fff" stroke-width="1.4" fill="none"/>
<path d="M511.11 372.5h44" stroke="#fff" stroke-width="4.2" fill="none"/></g>
<g><path d="M643.3 517V536" stroke="#1E90FF" stroke-width="1.3" fill="none"/>
<path d="M640.3 418h6M640.3 521.2h6" stroke="#1E90FF" stroke-width="2.08" stroke-linecap="round" fill="none"/>
<polygon points="642.9,392 642.1,405 640.8,414 639.3,421 636.55,430 631.3,445 628.9,457 628.8,466 630.2,475 635.2,490 638.3,497.5 640.6,505 642.3,517 642.7,521 642.9,536 643.7,536 643.9,521 644.3,517 646,505 648.3,497.5 651.4,490 656.4,475 657.8,466 657.7,457 655.3,445 650.05,430 647.3,421 645.8,414 644.5,405 643.7,392" fill="#1E90FF"/>
<path d="M640.3 421h6M640.3 421.81h6M640.3 424.42h6M640.3 425.5h6M640.3 426.58h6M640.3 428.38h6M640.3 429.46h6M640.3 430.9h6M640.3 431.44h6M640.3 431.98h6M640.3 433.42h6M640.3 434.86h6M640.3 436.3h6M640.3 437.74h6M640.3 438.82h6M640.3 439.36h6M640.3 440.17h6M640.3 440.71h6M640.3 443.32h6M640.3 444.4h6M640.3 447.01h6M640.3 448.09h6M640.3 449.53h6M640.3 463.5h6M640.3 464.31h6M640.3 466.11h6M640.3 466.65h6M640.3 467.46h6M640.3 469.26h6M640.3 470.34h6M640.3 471.15h6M640.3 473.76h6M640.3 475.56h6M640.3 476.1h6M640.3 477.9h6M640.3 478.98h6M640.3 481.59h6M640.3 482.13h6M640.3 484.74h6M640.3 485.82h6M640.3 488.5h6M640.3 489.58h6M640.3 490.39h6M640.3 491.47h6M640.3 497.5h6" stroke="#fff" stroke-width="2.08" stroke-linecap="round" fill="none"/>
<path d="M639.26 418h8.08M641.9 521.2h2.8" stroke="#fff" stroke-width="1.4" fill="none"/>
<path d="M621.3 460.7h44" stroke="#fff" stroke-width="4.2" fill="none"/></g>
<g><path d="M753.49 305.2V345M753.49 510V537.7" stroke="#1E90FF" stroke-width="1.3" fill="none"/>
<path d="M750.49 336.7h6M750.49 351.7h6M750.49 363.2h6M750.49 370.8h6M750.49 384h6M750.49 492h6M750.49 493.8h6M750.49 505.2h6" stroke="#1E90FF" stroke-width="2.08" stroke-linecap="round" fill="none"/>
<polygon points="752.89,342 751.99,343 751.49,370 750.99,375 749.49,388.5 748.29,397.5 745.59,412.5 744.69,427.5 744.09,450 744.99,465 748.39,480 749.49,487.5 750.49,492 751.49,493.5 751.49,505 751.99,506 752.29,510 752.99,511 753.99,511 754.69,510 754.99,506 755.49,505 755.49,493.5 756.49,492 757.49,487.5 758.59,480 761.99,465 762.89,450 762.29,427.5 761.39,412.5 758.69,397.5 757.49,388.5 755.99,375 755.49,370 754.99,343 754.09,342" fill="#1E90FF"/>
<path d="M750.49 391h6M750.49 400h6M750.49 408h6M750.49 409.8h6M750.49 411.6h6M750.49 415.5h6M750.49 416.58h6M750.49 419.19h6M750.49 420h6M750.49 430h6M750.49 439.5h6M750.49 450h6M750.49 450.81h6M750.49 451.62h6M750.49 453.06h6M750.49 455.67h6M750.49 456.48h6M750.49 457.29h6M750.49 459.09h6M750.49 460.53h6M750.49 461.61h6M750.49 469.5h6M750.49 470.04h6M750.49 470.58h6M750.49 471.66h6M750.49 473.1h6M750.49 474.18h6M750.49 474.99h6M750.49 480h6M750.49 481.8h6M750.49 482.88h6M750.49 484.32h6" stroke="#fff" stroke-width="2.08" stroke-linecap="round" fill="none"/>
<path d="M752.09 336.7h2.8M751.13 351.7h4.72M750.92 363.2h5.15M750.71 370.8h5.56M749.45 384h8.08M749.79 492h7.4M750.79 493.8h5.4M750.89 505.2h5.2" stroke="#fff" stroke-width="1.4" fill="none"/>
<path d="M731.49 434.3h44" stroke="#fff" stroke-width="4.2" fill="none"/></g>
<g><path d="M863.68 325.2V345M863.68 500V521" stroke="#1E90FF" stroke-width="1.3" fill="none"/>
<path d="M860.68 353.7h6M860.68 375h6M860.68 490.2h6M860.68 493.7h6" stroke="#1E90FF" stroke-width="2.08" stroke-linecap="round" fill="none"/>
<polygon points="863.08,343.5 862.68,350 862.18,360 861.18,375 860.68,382.5 859.68,390 858.68,395 854.88,410 853.68,425 852.78,440 854.58,455 858.43,470 859.68,477.5 860.68,485 861.68,488 862.18,495 862.68,500 863.18,501 864.18,501 864.68,500 865.18,495 865.68,488 866.68,485 867.68,477.5 868.93,470 872.78,455 874.58,440 873.68,425 872.48,410 868.68,395 867.68,390 866.68,382.5 866.18,375 865.18,360 864.68,350 864.28,343.5" fill="#1E90FF"/>
<path d="M860.68 389h6M860.68 391.5h6M860.68 394h6M860.68 396.5h6M860.68 402.5h6M860.68 403.58h6M860.68 404.66h6M860.68 405.2h6M860.68 406.01h6M860.68 406.55h6M860.68 407.36h6M860.68 408.8h6M860.68 409.61h6M860.68 410.69h6M860.68 411.5h6M860.68 414.5h6M860.68 416.3h6M860.68 418.1h6M860.68 418.64h6M860.68 420.08h6M860.68 422.69h6M860.68 423.77h6M860.68 426.38h6M860.68 438.5h6M860.68 441.11h6M860.68 441.65h6M860.68 446h6M860.68 448.61h6M860.68 449.42h6M860.68 450.86h6M860.68 451.67h6M860.68 453.11h6M860.68 455.72h6M860.68 456.8h6M860.68 457.34h6M860.68 459.95h6M860.68 461.39h6M860.68 462.83h6M860.68 469h6M860.68 471.61h6M860.68 472.15h6" stroke="#fff" stroke-width="2.08" stroke-linecap="round" fill="none"/>
<path d="M861.79 353.7h3.77M860.48 375h6.4M861.14 490.2h5.09M861.39 493.7h4.59" stroke="#fff" stroke-width="1.4" fill="none"/>
<path d="M841.68 430h44" stroke="#fff" stroke-width="4.2" fill="none"/></g>
<g><path d="M973.87 337.2V372" stroke="#1E90FF" stroke-width="1.3" fill="none"/>
<path d="M970.87 348h6M970.87 380.5h6M970.87 398h6M970.87 406.2h6" stroke="#1E90FF" stroke-width="2.08" stroke-linecap="round" fill="none"/>
<polygon points="973.27,370 972.37,372.5 971.87,395 970.87,404 969.87,410 965.87,425 960.37,440 959.87,447.5 969.37,485 972.37,500 973.57,512.7 974.17,512.7 975.37,500 978.37,485 987.87,447.5 987.37,440 981.87,425 977.87,410 976.87,404 975.87,395 975.37,372.5 974.47,370" fill="#1E90FF"/>
<path d="M970.87 412.7h6M970.87 423.5h6M970.87 424.31h6M970.87 425.12h6M970.87 425.93h6M970.87 426.47h6M970.87 427.28h6M970.87 429.08h6M970.87 430.52h6M970.87 433h6M970.87 433.81h6M970.87 435.61h6M970.87 437.41h6M970.87 438.85h6M970.87 447.5h6M970.87 448.58h6M970.87 449.39h6M970.87 451.19h6M970.87 452.99h6M970.87 453.8h6M970.87 454.34h6M970.87 454.88h6M970.87 461h6M970.87 463.61h6M970.87 464.15h6M970.87 470h6M970.87 472.61h6M970.87 473.42h6M970.87 478h6M970.87 478.81h6M970.87 479.62h6M970.87 480.16h6M970.87 481.24h6M970.87 482.05h6M970.87 483.13h6M970.87 484.93h6" stroke="#fff" stroke-width="2.08" stroke-linecap="round" fill="none"/>
<path d="M972.47 348h2.8M971.49 380.5h4.76M970.84 398h6.07M969.83 406.2h8.08" stroke="#fff" stroke-width="1.4" fill="none"/>
<path d="M951.87 444.2h44" stroke="#fff" stroke-width="4.2" fill="none"/></g>
<g><path d="M1084.06 300.2V391.5" stroke="#1E90FF" stroke-width="1.3" fill="none"/>
<path d="M1081.06 322.5h6M1081.06 343.3h6M1081.06 391.5h6M1081.06 432.7h6" stroke="#1E90FF" stroke-width="2.08" stroke-linecap="round" fill="none"/>
<polygon points="1083.56,301 1083.16,306 1083.06,314 1082.06,315 1082.06,350.5 1082.96,351.5 1082.96,390 1082.86,392 1082.71,405 1082.36,415 1081.56,420 1081.16,427.5 1080.86,432 1080.06,433.5 1080.06,454 1079.56,457.5 1078.06,472.5 1075.26,487.5 1075.06,495 1075.06,510 1076.06,517.5 1077.56,525 1081.06,540 1082.56,547.5 1083.76,556.8 1084.36,556.8 1085.56,547.5 1087.06,540 1090.56,525 1092.06,517.5 1093.06,510 1093.06,495 1092.86,487.5 1090.06,472.5 1088.56,457.5 1088.06,454 1088.06,433.5 1087.26,432 1086.96,427.5 1086.56,420 1085.76,415 1085.41,405 1085.26,392 1085.16,390 1085.16,351.5 1086.06,350.5 1086.06,315 1085.06,314 1084.96,306 1084.56,301" fill="#1E90FF"/>
<path d="M1081.06 454.5h6M1081.06 474.7h6M1081.06 485.3h6M1081.06 492h6M1081.06 500h6M1081.06 508.5h6M1081.06 519h6M1081.06 527.7h6" stroke="#fff" stroke-width="2.08" stroke-linecap="round" fill="none"/>
<path d="M1081.36 322.5h5.4M1081.36 343.3h5.4M1082.18 391.5h3.75M1080.02 432.7h8.08" stroke="#fff" stroke-width="1.4" fill="none"/>
<path d="M1062.06 463.5h44" stroke="#fff" stroke-width="4.2" fill="none"/></g>
<rect x="204.4" y="164" width="951.6" height="552.3" fill="none" stroke="#000" stroke-width="2.08"/>
<path d="M204.4 693.6V166M204.4 693.6h-20M204.4 561.7h-20M204.4 429.8h-20M204.4 297.9h-20M204.4 166h-20" stroke="#000" stroke-width="2.08" fill="none" stroke-linecap="round"/>
<text transform="translate(156 693.6) rotate(-90) scale(1,1.04)" font-size="33.3" text-anchor="middle">4</text>
<text transform="translate(156 561.7) rotate(-90) scale(1,1.04)" font-size="33.3" text-anchor="middle">6</text>
<text transform="translate(156 429.8) rotate(-90) scale(1,1.04)" font-size="33.3" text-anchor="middle">8</text>
<text transform="translate(156 297.9) rotate(-90) scale(1,1.04)" font-size="33.3" text-anchor="middle">10</text>
<text transform="translate(156 166) rotate(-90) scale(1,1.04)" font-size="33.3" text-anchor="middle">12</text>
<text transform="translate(76 440.3) rotate(-90) scale(1,1.04)" font-size="26.7" text-anchor="middle">mRNA Expression (RNASeq V2, log2)</text>
<rect x="1187" y="367.5" width="22" height="18" fill="#FF4500"/>
<rect x="1187" y="407.5" width="22" height="18" fill="#1E90FF"/>
<text transform="translate(1239.5 388) scale(1.028,1.04)" font-size="33.3">Tumor</text>
<text transform="translate(1239.5 428) scale(1.02,1.04)" font-size="33.3">Normal</text>
<text transform="translate(297.9 736.8) rotate(-45) scale(1,1.04)" font-size="26.7" text-anchor="end">Breast (BRCA)</text>
<text transform="translate(334.9 735.6) rotate(-45) scale(1,1.04)" font-size="20" text-anchor="end">adjusted p-value &lt;2e-16</text>
<text transform="translate(408.09 736.8) rotate(-45) scale(1,1.04)" font-size="26.7" text-anchor="end">Colon and Rectal (COAD)</text>
<text transform="translate(445.09 735.6) rotate(-45) scale(1,1.04)" font-size="20" text-anchor="end">adjusted p-value = 1</text>
<text transform="translate(518.28 736.8) rotate(-45) scale(1,1.04)" font-size="26.7" text-anchor="end">Head and Neck (HNSC)</text>
<text transform="translate(555.28 735.6) rotate(-45) scale(1,1.04)" font-size="20" text-anchor="end">adjusted p-value = 0.00065</text>
<text transform="translate(628.47 736.8) rotate(-45) scale(1,1.04)" font-size="26.7" text-anchor="end">Kidney (KIRC)</text>
<text transform="translate(665.47 735.6) rotate(-45) scale(1,1.04)" font-size="20" text-anchor="end">adjusted p-value = 1</text>
<text transform="translate(738.66 736.8) rotate(-45) scale(1,1.04)" font-size="26.7" text-anchor="end">Lung (LUAD)</text>
<text transform="translate(775.66 735.6) rotate(-45) scale(1,1.04)" font-size="20" text-anchor="end">adjusted p-value = 1</text>
<text transform="translate(848.85 736.8) rotate(-45) scale(1,1.04)" font-size="26.7" text-anchor="end">Lung Squamous (LUSC)</text>
<text transform="translate(885.85 735.6) rotate(-45) scale(1,1.04)" font-size="20" text-anchor="end">adjusted p-value = 1</text>
<text transform="translate(959.04 736.8) rotate(-45) scale(1,1.04)" font-size="26.7" text-anchor="end">Thyroid (THCA)</text>
<text transform="translate(996.04 735.6) rotate(-45) scale(1,1.04)" font-size="20" text-anchor="end">adjusted p-value = 0.0024</text>
<text transform="translate(1069.23 736.8) rotate(-45) scale(1,1.04)" font-size="26.7" text-anchor="end">Uterine (UCEC)</text>
<text transform="translate(1106.23 735.6) rotate(-45) scale(1,1.04)" font-size="20" text-anchor="end">adjusted p-value = 0.082</text>
</svg>
</body></html>
